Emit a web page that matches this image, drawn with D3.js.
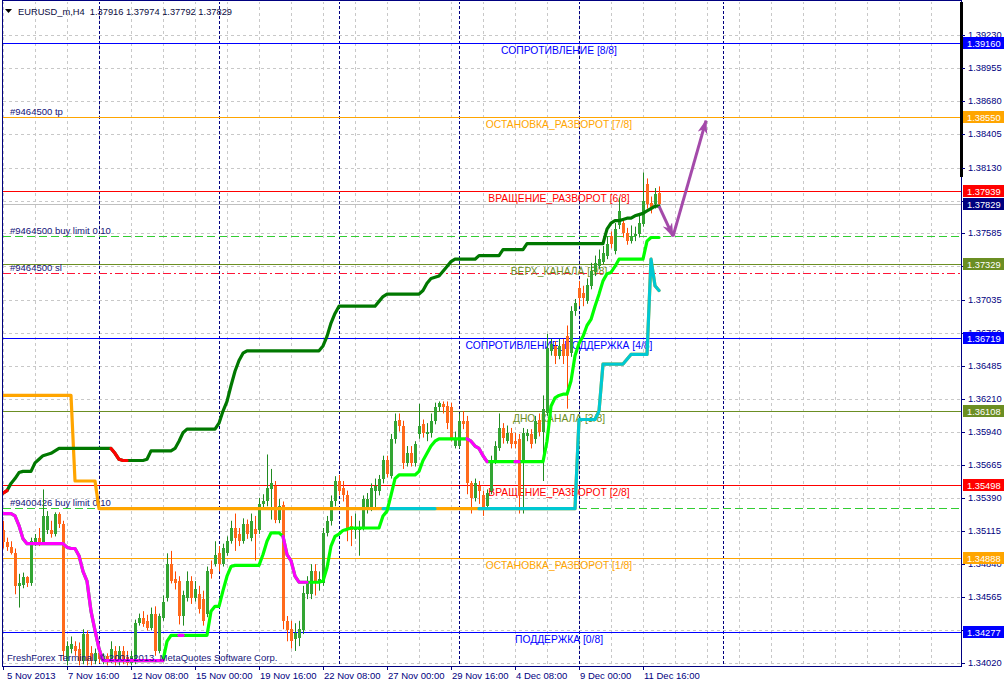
<!DOCTYPE html>
<html><head><meta charset="utf-8">
<script src="https://cdn.jsdelivr.net/npm/d3@7"></script>
<style>
html,body{margin:0;padding:0;background:#fff;}
svg{display:block;font-family:"Liberation Sans",Arial,sans-serif;}
</style></head><body>
<svg id="c" width="1004" height="684"></svg>
<script>
// ---------- DATA ----------
const symbolTitle = "EURUSD_m,H4  1.37916 1.37974 1.37792 1.37829";
const openP = [
1.3512,1.3502,1.3498,1.3493,1.3466,1.3467,1.3473,1.3468,1.3502,1.3506,
1.3502,1.3512,1.3512,1.3509,1.3526,1.3517,1.3404,1.3414,1.3416,1.3414,
1.3404,1.3426,1.3410,1.3404,1.3410,1.3405,1.3408,1.3404,1.3412,1.3404,
1.3412,1.3407,1.3402,1.3404,1.3435,1.3439,1.3437,1.3431,1.3443,1.3412,
1.3439,1.3456,1.3484,1.3472,1.3470,1.3441,1.3456,1.3470,1.3456,1.3459,
1.3455,1.3443,1.3480,1.3484,1.3493,1.3484,1.3493,1.3503,1.3514,1.3509,
1.3503,1.3517,1.3506,1.3513,1.3512,1.3534,1.3536,1.3546,1.3549,1.3521,
1.3533,1.3437,1.3430,1.3422,1.3423,1.3429,1.3459,1.3459,1.3478,1.3468,
1.3468,1.3510,1.3520,1.3536,1.3553,1.3547,1.3541,1.3516,1.3512,1.3512,
1.3514,1.3530,1.3530,1.3545,1.3545,1.3555,1.3570,1.3557,1.3588,1.3604,
1.3599,1.3568,1.3576,1.3568,1.3592,1.3600,1.3592,1.3593,1.3603,1.3614,
1.3617,1.3615,1.3614,1.3582,1.3582,1.3603,1.3603,1.3551,1.3539,1.3549,
1.3541,1.3532,1.3545,1.3570,1.3580,1.3597,1.3586,1.3593,1.3586,1.3588,
1.3570,1.3590,1.3592,1.3588,1.3604,1.3594,1.3609,1.3661,1.3665,1.3657,
1.3667,1.3673,1.3659,1.3694,1.3713,1.3709,1.3702,1.3715,1.3726,1.3731,
1.3735,1.3740,1.3756,1.3744,1.3765,1.3767,1.3759,1.3752,1.3756,1.3758,
1.3766,1.3799,1.3784,1.3783,1.37916];
const highP = [
1.3520,1.3506,1.3503,1.3497,1.3476,1.3477,1.3474,1.3506,1.3509,1.3514,
1.3546,1.3528,1.3520,1.3527,1.3527,1.3520,1.3420,1.3424,1.3420,1.3419,
1.3430,1.3429,1.3416,1.3414,1.3412,1.3410,1.3410,1.3420,1.3416,1.3416,
1.3416,1.3412,1.3412,1.3438,1.3443,1.3445,1.3442,1.3448,1.3449,1.3443,
1.3458,1.3493,1.3495,1.3478,1.3474,1.3462,1.3478,1.3474,1.3470,1.3466,
1.3462,1.3482,1.3487,1.3503,1.3499,1.3501,1.3507,1.3520,1.3526,1.3514,
1.3522,1.3521,1.3526,1.3524,1.3539,1.3542,1.3575,1.3563,1.3553,1.3538,
1.3536,1.3441,1.3437,1.3435,1.3437,1.3466,1.3474,1.3484,1.3484,1.3478,
1.3514,1.3524,1.3541,1.3557,1.3558,1.3553,1.3545,1.3524,1.3526,1.3520,
1.3541,1.3543,1.3551,1.3555,1.3558,1.3574,1.3574,1.3592,1.3609,1.3609,
1.3603,1.3582,1.3582,1.3586,1.3617,1.3604,1.3601,1.3609,1.3618,1.3619,
1.3619,1.3619,1.3618,1.3594,1.3609,1.3611,1.3607,1.3553,1.3555,1.3553,
1.3545,1.3546,1.3574,1.3586,1.3609,1.3601,1.3599,1.3597,1.3593,1.3592,
1.3597,1.3596,1.3596,1.3607,1.3609,1.3624,1.3675,1.3671,1.3669,1.3671,
1.3671,1.3682,1.3698,1.3704,1.3719,1.3715,1.3721,1.3734,1.3740,1.3745,
1.3748,1.3756,1.3760,1.3767,1.3788,1.3771,1.3763,1.3765,1.3764,1.3773,
1.3809,1.3804,1.3789,1.3796,1.37974];
const lowP = [
1.3497,1.3495,1.3492,1.3459,1.3448,1.3464,1.3465,1.3466,1.3499,1.3499,
1.3500,1.3509,1.3506,1.3507,1.3514,1.3404,1.3400,1.3410,1.3408,1.3400,
1.3401,1.3400,1.3400,1.3401,1.3402,1.3401,1.3400,1.3402,1.3400,1.3400,
1.3401,1.3400,1.3400,1.3401,1.3433,1.3432,1.3429,1.3429,1.3408,1.3410,
1.3437,1.3453,1.3468,1.3463,1.3434,1.3433,1.3453,1.3451,1.3453,1.3443,
1.3433,1.3440,1.3472,1.3482,1.3478,1.3482,1.3491,1.3501,1.3495,1.3499,
1.3501,1.3505,1.3503,1.3487,1.3509,1.3531,1.3532,1.3521,1.3518,1.3518,
1.3430,1.3420,1.3414,1.3412,1.3416,1.3426,1.3455,1.3455,1.3458,1.3462,
1.3466,1.3507,1.3516,1.3532,1.3541,1.3536,1.3503,1.3499,1.3505,1.3491,
1.3512,1.3526,1.3528,1.3531,1.3541,1.3551,1.3556,1.3555,1.3584,1.3594,
1.3563,1.3565,1.3565,1.3565,1.3588,1.3589,1.3586,1.3589,1.3600,1.3611,
1.3609,1.3596,1.3586,1.3580,1.3580,1.3596,1.3542,1.3526,1.3536,1.3534,
1.3524,1.3530,1.3542,1.3567,1.3578,1.3584,1.3584,1.3580,1.3580,1.3526,
1.3526,1.3586,1.3580,1.3584,1.3590,1.3553,1.3607,1.3657,1.3650,1.3654,
1.3650,1.3613,1.3656,1.3690,1.3698,1.3698,1.3700,1.3712,1.3723,1.3729,
1.3733,1.3737,1.3746,1.3741,1.3762,1.3755,1.3749,1.3750,1.3752,1.3755,
1.3764,1.3779,1.3775,1.3779,1.37792];
const closeP = [
1.3502,1.3498,1.3493,1.3466,1.3468,1.3473,1.3468,1.3503,1.3506,1.3502,
1.3524,1.3524,1.3509,1.3526,1.3517,1.3412,1.3416,1.3418,1.3412,1.3404,
1.3426,1.3404,1.3404,1.3410,1.3405,1.3408,1.3404,1.3414,1.3404,1.3412,
1.3405,1.3402,1.3408,1.3435,1.3439,1.3434,1.3431,1.3443,1.3412,1.3441,
1.3453,1.3484,1.3470,1.3468,1.3441,1.3458,1.3470,1.3456,1.3463,1.3447,
1.3437,1.3478,1.3476,1.3492,1.3484,1.3497,1.3503,1.3514,1.3506,1.3503,
1.3517,1.3509,1.3520,1.3509,1.3534,1.3536,1.3547,1.3551,1.3521,1.3532,
1.3437,1.3429,1.3420,1.3427,1.3430,1.3460,1.3468,1.3478,1.3470,1.3472,
1.3510,1.3520,1.3536,1.3553,1.3545,1.3541,1.3512,1.3512,1.3514,1.3514,
1.3538,1.3538,1.3547,1.3549,1.3555,1.3570,1.3559,1.3588,1.3603,1.3599,
1.3568,1.3576,1.3568,1.3584,1.3599,1.3593,1.3594,1.3603,1.3614,1.3618,
1.3614,1.3601,1.3589,1.3588,1.3603,1.3600,1.3551,1.3539,1.3551,1.3545,
1.3530,1.3543,1.3570,1.3582,1.3597,1.3589,1.3593,1.3584,1.3584,1.3541,
1.3593,1.3593,1.3584,1.3603,1.3594,1.3613,1.3663,1.3667,1.3657,1.3665,
1.3657,1.3657,1.3694,1.3701,1.3705,1.3705,1.3716,1.3727,1.3734,1.3737,
1.3742,1.3750,1.3750,1.3762,1.3777,1.3759,1.3752,1.3756,1.3758,1.3767,
1.3785,1.3783,1.3779,1.3791,1.37829];

// trend line (dark green, red when falling)
const trendLine = [
1.3543,1.3545,1.3551,1.3555,1.3560,1.3561,1.3561,1.3561,1.3568,1.3571,
1.3574,1.3575,1.3576,1.3578,1.3580,1.3580,1.3580,1.3580,1.3580,1.3580,
1.3580,1.3580,1.3580,1.3580,1.3580,1.3580,1.3580,1.3580,1.3576,1.3571,
1.3570,1.3570,1.3570,1.3570,1.3570,1.3570,1.3571,1.3578,1.3578,1.3578,
1.3578,1.3578,1.3578,1.3580,1.3586,1.3593,1.3596,1.3596,1.3596,1.3596,
1.3596,1.3596,1.3596,1.3596,1.3601,1.3611,1.3619,1.3632,1.3644,1.3653,
1.3659,1.3661,1.3661,1.3661,1.3661,1.3661,1.3661,1.3661,1.3661,1.3661,
1.3661,1.3661,1.3661,1.3661,1.3661,1.3661,1.3661,1.3661,1.3661,1.3661,
1.3665,1.3673,1.3684,1.3692,1.3698,1.3698,1.3698,1.3698,1.3698,1.3698,
1.3698,1.3698,1.3698,1.3698,1.3702,1.3706,1.3708,1.3708,1.3708,1.3708,
1.3708,1.3708,1.3708,1.3708,1.3708,1.3711,1.3717,1.3721,1.3722,1.3723,
1.3727,1.3731,1.3735,1.3737,1.3737,1.3737,1.3737,1.3737,1.3737,1.3740,
1.3740,1.3740,1.3740,1.3740,1.3740,1.3745,1.3745,1.3745,1.3745,1.3745,
1.3745,1.3750,1.3750,1.3750,1.3750,1.3750,1.3750,1.3750,1.3750,1.3750,
1.3750,1.3750,1.3750,1.3750,1.3750,1.3750,1.3750,1.3750,1.3750,1.3750,
1.3750,1.3762,1.3767,1.3769,1.3769,1.3770,1.3771,1.3771,1.3773,1.3774,
1.3775,1.3777,1.3779,1.3781,1.3781];
const trendRedRanges = [[0,1],[27,31]];

// stop line (orange, cyan in other mode)
const stopLine = [
1.3624,1.3624,1.3624,1.3624,1.3624,1.3624,1.3624,1.3624,1.3624,1.3624,
1.3624,1.3624,1.3624,1.3624,1.3624,1.3624,1.3624,1.3624,1.3553,1.3553,
1.3553,1.3553,1.3553,1.3553,1.3530,1.3530,1.3530,1.3530,1.3530,1.3530,
1.3530,1.3530,1.3530,1.3530,1.3530,1.3530,1.3530,1.3530,1.3530,1.3530,
1.3530,1.3530,1.3530,1.3530,1.3530,1.3530,1.3530,1.3530,1.3530,1.3530,
1.3530,1.3530,1.3530,1.3530,1.3530,1.3530,1.3530,1.3530,1.3530,1.3530,
1.3530,1.3530,1.3530,1.3530,1.3530,1.3530,1.3530,1.3530,1.3530,1.3530,
1.3530,1.3530,1.3530,1.3530,1.3530,1.3530,1.3530,1.3530,1.3530,1.3530,
1.3530,1.3530,1.3530,1.3530,1.3530,1.3530,1.3530,1.3530,1.3530,1.3530,
1.3530,1.3530,1.3530,1.3530,1.3530,1.3530,1.3530,1.3530,1.3530,1.3530,
1.3530,1.3530,1.3530,1.3530,1.3530,1.3530,1.3530,1.3530,1.3530,1.3530,
1.3530,1.3530,1.3530,1.3530,1.3530,1.3530,1.3530,1.3530,1.3530,1.3530,
1.3530,1.3530,1.3530,1.3530,1.3530,1.3530,1.3530,1.3530,1.3530,1.3530,
1.3530,1.3530,1.3530,1.3530,1.3530,1.3530,1.3530,1.3530,1.3530,1.3530,
1.3530,1.3530,1.3530,1.3530,1.3604,1.3604,1.3604,1.3604,1.3604,1.3611,
1.3650,1.3650,1.3650,1.3650,1.3650,1.3650,1.3654,1.3658,1.3658,1.3658,
1.3658,1.3658,1.3737,1.3715,1.3711];
const stopCyanRanges = [[95,108],[119,164]];

// signal line (lime, magenta when falling)
const signalLine = [
1.3526,1.3526,1.3526,1.3524,1.3516,1.3505,1.3501,1.3501,1.3501,1.3501,
1.3501,1.3501,1.3501,1.3501,1.3501,1.3501,1.3498,1.3497,1.3497,1.3491,
1.3478,1.3470,1.3445,1.3429,1.3414,1.3404,1.3404,1.3404,1.3404,1.3404,
1.3404,1.3404,1.3404,1.3404,1.3404,1.3404,1.3404,1.3404,1.3404,1.3404,
1.3404,1.3420,1.3425,1.3425,1.3425,1.3425,1.3425,1.3425,1.3425,1.3425,
1.3425,1.3425,1.3445,1.3449,1.3449,1.3462,1.3474,1.3482,1.3483,1.3483,
1.3483,1.3483,1.3483,1.3483,1.3483,1.3492,1.3503,1.3510,1.3510,1.3510,
1.3507,1.3492,1.3487,1.3474,1.3469,1.3469,1.3469,1.3469,1.3469,1.3469,
1.3470,1.3481,1.3499,1.3507,1.3509,1.3512,1.3513,1.3514,1.3514,1.3514,
1.3514,1.3514,1.3514,1.3514,1.3514,1.3524,1.3528,1.3541,1.3555,1.3558,
1.3558,1.3558,1.3558,1.3558,1.3561,1.3570,1.3576,1.3582,1.3586,1.3588,
1.3588,1.3588,1.3588,1.3588,1.3588,1.3588,1.3588,1.3586,1.3582,1.3580,
1.3574,1.3569,1.3569,1.3569,1.3569,1.3569,1.3569,1.3569,1.3569,1.3569,
1.3569,1.3569,1.3569,1.3569,1.3569,1.3569,1.3586,1.3615,1.3622,1.3624,
1.3625,1.3625,1.3636,1.3657,1.3667,1.3673,1.3682,1.3687,1.3698,1.3708,
1.3719,1.3725,1.3726,1.3731,1.3737,1.3737,1.3737,1.3737,1.3737,1.3737,
1.3737,1.3752,1.3755,1.3755,1.3755];
const signalMagentaRanges = [[0,40],[44,45],[70,76],[116,121],[128,129]];

// Murrey levels
const levelPrices = [1.39160,1.38550,1.37939,1.37329,1.36719,1.36108,1.35498,1.34888,1.34277];
const levelNames = ["СОПРОТИВЛЕНИЕ [8/8]","ОСТАНОВКА_РАЗВОРОТ [7/8]","ВРАЩЕНИЕ_РАЗВОРОТ [6/8]","ВЕРХ_КАНАЛА [5/8]",
  "СОПРОТИВЛЕНИЕ_ПОДДЕРЖКА [4/8]","ДНО_КАНАЛА [3/8]","ВРАЩЕНИЕ_РАЗВОРОТ [2/8]","ОСТАНОВКА_РАЗВОРОТ [1/8]","ПОДДЕРЖКА [0/8]"];
const levelColors = ["#0000ff","#ffa500","#ff0000","#6b8e23","#0000ff","#6b8e23","#ff0000","#ffa500","#0000ff"];

// orders
const orderPrices = [1.38550, 1.37560, 1.37255, 1.35306];
const orderLabels = ["#9464500 tp","#9464500 buy limit 0.10","#9464500 sl","#9400426 buy limit 0.10"];
const orderStyles = ["none","dash","dashdot","dash"];
const bidPrice = 1.37829;

// forecast arrow (bar index, price)
const arrowIdx = [164, 167.5, 175.75];
const arrowPrice = [1.3781, 1.3756, 1.3852];

// axes
const priceTicks = [1.39230,1.38955,1.38680,1.38405,1.38130,1.37855,1.37585,1.37310,1.37035,1.36760,
  1.36485,1.36210,1.35940,1.35665,1.35390,1.35115,1.34840,1.34565,1.34290,1.34020];
const hiddenTickLabels = [1.37310, 1.34290];
const timeTickIdx = [0,16,32,48,64,80,96,112,128,144,160];
const timeTickLabels = ["5 Nov 2013","7 Nov 16:00","12 Nov 08:00","15 Nov 00:00","19 Nov 16:00","22 Nov 08:00",
  "27 Nov 00:00","29 Nov 16:00","4 Dec 08:00","9 Dec 00:00","11 Dec 16:00"];
const separatorIdx = [24,54,84,114,144,180];
const priceBoxes = [1.39160,1.38550,1.37939,1.37829,1.37329,1.36719,1.36108,1.35498,1.34888,1.34277];
const priceBoxColors = ["#0000ff","#ffa500","#ff0000","#000080","#6b8e23","#0000ff","#6b8e23","#ff0000","#ffa500","#0000ff"];

// ---------- DRAW ----------
const svg = d3.select("#c");
const L = 3, R = 961, T = 1, B = 666;
const x = d3.scaleLinear().domain([0, 239.5]).range([3, 961]);
const y = d3.scaleLinear().domain([1.3402, 1.3923]).range([663, 35]);
const px = v => Math.round(v) + 0.5;

svg.append("rect").attr("width",1004).attr("height",684).attr("fill","#fff");
const defs = svg.append("defs");
defs.append("clipPath").attr("id","plot")
  .append("rect").attr("x",L).attr("y",T+1).attr("width",R-L).attr("height",B-T-1);

const g = svg.append("g").attr("clip-path","url(#plot)");

// grid
const gridIdx = d3.range(0, 240, 8);
g.selectAll("line.gv").data(gridIdx).join("line")
  .attr("x1",d=>px(x(d))).attr("x2",d=>px(x(d))).attr("y1",T).attr("y2",B)
  .attr("stroke","#c8c8c8").attr("stroke-dasharray","3,3");
g.selectAll("line.gh").data(priceTicks).join("line")
  .attr("x1",L).attr("x2",R).attr("y1",d=>px(y(d))).attr("y2",d=>px(y(d)))
  .attr("stroke","#c8c8c8").attr("stroke-dasharray","3,3");
// period separators
g.selectAll("line.sep").data(separatorIdx).join("line")
  .attr("x1",d=>px(x(d))).attr("x2",d=>px(x(d))).attr("y1",T).attr("y2",B)
  .attr("stroke","#000080").attr("stroke-dasharray","3,2");

// bid line
g.append("line").attr("x1",L).attr("x2",R).attr("y1",px(y(bidPrice))).attr("y2",px(y(bidPrice)))
  .attr("stroke","#c0c0c0");

// order lines
orderPrices.forEach((p,k)=>{
  if (orderStyles[k] === "none") return;
  g.append("line").attr("x1",L).attr("x2",R).attr("y1",px(y(p))).attr("y2",px(y(p)))
    .attr("stroke", orderStyles[k]==="dash" ? "#32cd32" : "#ff1438")
    .attr("stroke-width", orderStyles[k]==="dash" ? 1 : 1.2)
    .attr("stroke-dasharray", orderStyles[k]==="dash" ? "8,4" : "8,3,2,3");
});

// level lines
levelPrices.forEach((p,k)=>{
  g.append("line").attr("x1",L).attr("x2",R).attr("y1",px(y(p))).attr("y2",px(y(p)))
    .attr("stroke",levelColors[k]);
});
// level labels
levelPrices.forEach((p,k)=>{
  g.append("text").attr("x",559).attr("y",Math.round(y(p))+11)
    .attr("text-anchor","middle").attr("font-size","10.3px").attr("fill",levelColors[k])
    .text(levelNames[k]);
});
// order labels
orderPrices.forEach((p,k)=>{
  g.append("text").attr("x",10).attr("y",Math.round(y(p))-2)
    .attr("font-size","9.5px").attr("fill","#14147a").text(orderLabels[k]);
});

// candles
const bars = openP.map((o,i)=>({i,o,h:highP[i],l:lowP[i],c:closeP[i]}));
const cg = g.append("g");
bars.forEach(b=>{
  const xi = Math.round(x(b.i));
  const up = b.c >= b.o;
  const wick = up ? "#208a20" : "#ff4a00";
  const fill = up ? "#33a533" : "#ff6a1c";
  cg.append("line").attr("x1",xi+0.5).attr("x2",xi+0.5)
    .attr("y1",y(b.h)).attr("y2",y(b.l)).attr("stroke",wick);
  const top = Math.round(y(Math.max(b.o,b.c)));
  const bot = Math.round(y(Math.min(b.o,b.c)));
  cg.append("rect").attr("x",xi-1).attr("y",top).attr("width",3).attr("height",Math.max(1,bot-top))
    .attr("fill",fill);
});

// indicator lines
const lineGen = d3.line().x(d=>x(d[0])).y(d=>y(d[1]));
function drawSeries(vals, color, ranges, altColor){
  const pts = vals.map((v,i)=>[i,v]);
  g.append("path").attr("d",lineGen(pts)).attr("fill","none").attr("stroke",color)
    .attr("stroke-width",3.2).attr("stroke-linejoin","round").attr("stroke-linecap","round");
  ranges.forEach(([a,b])=>{
    g.append("path").attr("d",lineGen(pts.slice(a,b+1))).attr("fill","none").attr("stroke",altColor)
      .attr("stroke-width",3.2).attr("stroke-linejoin","round").attr("stroke-linecap","round");
  });
}
drawSeries(stopLine, "#ffa500", stopCyanRanges, "#00c8d2");
drawSeries(signalLine, "#00ff00", signalMagentaRanges, "#ff00ff");
drawSeries(trendLine, "#007800", trendRedRanges, "#ff0000");

// forecast arrow
defs.append("marker").attr("id","ah").attr("viewBox","0 0 14 10").attr("refX",13).attr("refY",5)
  .attr("markerWidth",14).attr("markerHeight",10).attr("markerUnits","userSpaceOnUse").attr("orient","auto")
  .append("path").attr("d","M0,0 L14,5 L0,10 L4,5 z").attr("fill","#a44aaa");
for (let k=0;k<arrowIdx.length-1;k++){
  svg.append("line").attr("x1",x(arrowIdx[k])).attr("y1",y(arrowPrice[k]))
    .attr("x2",x(arrowIdx[k+1])).attr("y2",y(arrowPrice[k+1]))
    .attr("stroke","#a44aaa").attr("stroke-width",3).attr("marker-end","url(#ah)");
}

// copyright & header
svg.append("text").attr("x",7).attr("y",661).attr("font-size","9.5px").attr("fill","#14147a")
  .text("FreshForex Terminal, © 2001-2013, MetaQuotes Software Corp.");
svg.append("path").attr("d","M5,9 L12,9 L8.5,13 Z").attr("fill","#000");
svg.append("text").attr("x",18).attr("y",15).attr("font-size","9.3px").attr("fill","#0a0a40")
  .style("white-space","pre").text(symbolTitle);

// frame and axes
svg.append("rect").attr("x",2.5).attr("y",0.5).attr("width",959).attr("height",666)
  .attr("fill","none").attr("stroke","#000080");
svg.append("rect").attr("x",960).attr("y",2).attr("width",3).attr("height",175).attr("fill","#000");

// price axis ticks and labels
svg.selectAll("line.pt").data(priceTicks).join("line")
  .attr("x1",962).attr("x2",965).attr("y1",d=>px(y(d))).attr("y2",d=>px(y(d))).attr("stroke","#000080");
svg.selectAll("text.pl").data(priceTicks.filter(v=>!hiddenTickLabels.includes(v))).join("text")
  .attr("x",968).attr("y",d=>Math.round(y(d))+3).attr("font-size","9.3px").attr("fill","#000080")
  .text(d=>d.toFixed(5));

// time axis
svg.selectAll("line.tt").data(timeTickIdx).join("line")
  .attr("x1",d=>px(x(d))).attr("x2",d=>px(x(d))).attr("y1",666).attr("y2",670).attr("stroke","#000080");
svg.selectAll("text.tl").data(timeTickIdx).join("text")
  .attr("x",(d,k)=> k===0 ? x(d)+4 : x(d)+1).attr("y",679).attr("font-size","9.5px").attr("fill","#000080")
  .text((d,k)=>timeTickLabels[k]);

// price boxes
priceBoxes.forEach((p,k)=>{
  const yy = Math.round(y(p));
  svg.append("rect").attr("x",963).attr("y",yy-6).attr("width",41).attr("height",12).attr("fill",priceBoxColors[k]);
  svg.append("text").attr("x",967).attr("y",yy+4).attr("font-size","9.3px").attr("fill","#fff").text(p.toFixed(5));
});
</script>
</body></html>
